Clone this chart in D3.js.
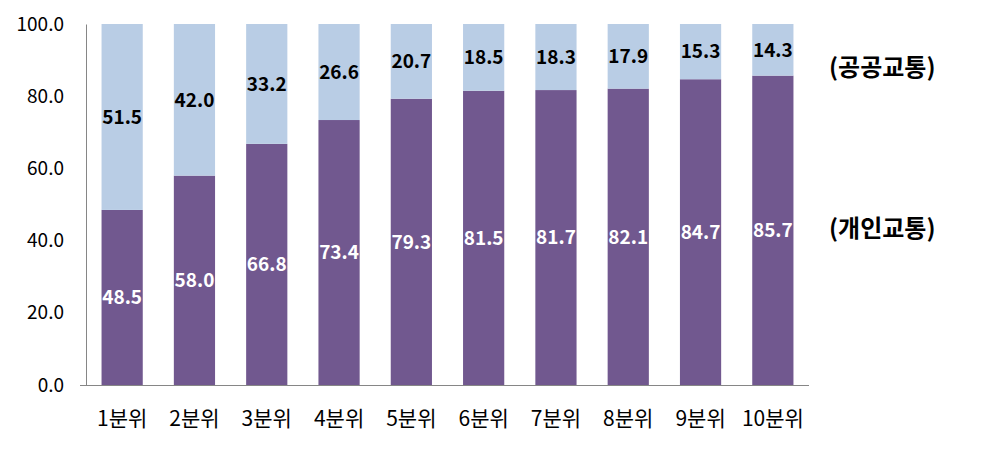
<!DOCTYPE html>
<html><head><meta charset="utf-8">
<script src="https://cdn.jsdelivr.net/npm/d3@7"></script>
<style>body{margin:0;background:#fff}svg{display:block}text{font-family:"Noto Sans CJK KR","Noto Sans",sans-serif}</style>
</head><body><svg id="c" width="981" height="450"></svg>
<script>
const categories = ["1분위","2분위","3분위","4분위","5분위","6분위","7분위","8분위","9분위","10분위"];
const privateTransport = [48.5,58.0,66.8,73.4,79.3,81.5,81.7,82.1,84.7,85.7];
const publicTransport = [51.5,42.0,33.2,26.6,20.7,18.5,18.3,17.9,15.3,14.3];
const yTicks = [0,20,40,60,80,100];
const seriesNames = ["(개인교통)","(공공교통)"];

const svg = d3.select("#c");
const m = {l:86, r:809, t:24, b:385};
const x = d3.scaleBand().domain(categories).range([m.l, m.r]).paddingInner(0.43).paddingOuter(0.215);
const y = d3.scaleLinear().domain([0,100]).range([m.b, m.t]);

const colors = ["#71588F","#B9CDE5"];
const data = categories.map((c,i)=>({c, p:privateTransport[i], q:publicTransport[i]}));

// bars
svg.append("g").selectAll("rect").data(data).join("rect")
  .attr("x", d=>x(d.c)).attr("width", x.bandwidth())
  .attr("y", d=>y(d.p)).attr("height", d=>y(0)-y(d.p)).attr("fill", colors[0]);
svg.append("g").selectAll("rect").data(data).join("rect")
  .attr("x", d=>x(d.c)).attr("width", x.bandwidth())
  .attr("y", d=>y(d.p+d.q)).attr("height", d=>y(d.p)-y(d.p+d.q)).attr("fill", colors[1]);

// value labels
svg.append("g").selectAll("text").data(data).join("text")
  .attr("x", d=>x(d.c)+x.bandwidth()/2).attr("y", d=>y(d.p/2))
  .attr("dy","0.36em").attr("text-anchor","middle")
  .attr("font-size",19).attr("font-weight","bold").attr("fill","#fff")
  .text(d=>d.p.toFixed(1));
svg.append("g").selectAll("text").data(data).join("text")
  .attr("x", d=>x(d.c)+x.bandwidth()/2).attr("y", d=>y(d.p+d.q/2))
  .attr("dy","0.36em").attr("text-anchor","middle")
  .attr("font-size",19).attr("font-weight","bold").attr("fill","#000")
  .text(d=>d.q.toFixed(1));

// y axis
const ya = svg.append("g").attr("transform",`translate(${m.l},0)`)
  .call(d3.axisLeft(y).tickValues(yTicks).tickFormat(d=>d.toFixed(1)).tickSize(0).tickPadding(22));
ya.select(".domain").attr("stroke","#868686");
ya.selectAll("text").attr("font-size",19).attr("fill","#000").style("font-family",'"Noto Sans CJK KR",sans-serif');

// x axis
const xa = svg.append("g").attr("transform",`translate(0,${m.b})`)
  .call(d3.axisBottom(x).tickSize(0).tickPadding(26));
xa.select(".domain").attr("d",`M${m.l-6},0.5H${m.r}`).attr("stroke","#868686");
xa.selectAll("text").attr("font-size",21).attr("fill","#000").style("font-family",'"Noto Sans CJK KR",sans-serif');

// legend labels
svg.append("g").selectAll("text").data(seriesNames).join("text")
  .attr("x", 829).attr("y", (d,i)=>[228,67][i]).attr("dy","0.36em")
  .attr("font-size",24).attr("font-weight","bold").attr("fill","#000")
  .text(d=>d);
</script></body></html>
